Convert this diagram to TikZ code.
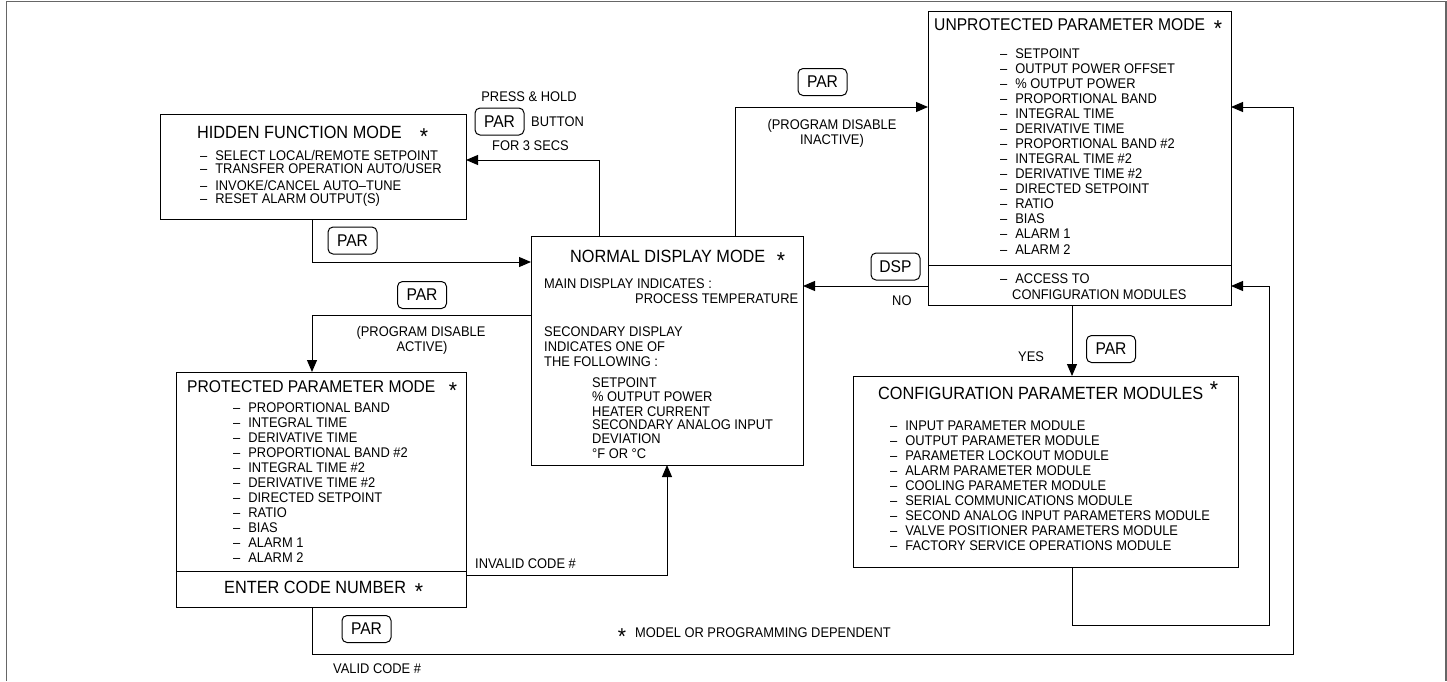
\documentclass[tikz,border=0pt]{standalone}
\usepackage{fontspec}
\setmainfont{Liberation Sans}[FakeStretch=0.92]
\usetikzlibrary{arrows.meta}
\tikzset{
  box/.style={draw, line width=1pt, inner sep=0pt, outer sep=0pt},
  btn/.style={draw, rounded corners=5pt, line width=1pt, minimum width=49pt, minimum height=27pt, inner sep=0pt, outer sep=0pt, font=\fontsize{17}{17}\selectfont},
  itm/.style={anchor=base west, inner sep=0pt, font=\fontsize{14}{14}\selectfont},
  ttl/.style={anchor=base west, inner sep=0pt, font=\fontsize{17.7}{17.7}\selectfont},
  ttls/.style={anchor=base west, inner sep=0pt, font=\fontsize{17}{17}\selectfont},
  lbl/.style={anchor=base, inner sep=0pt, font=\fontsize{14}{14}\selectfont},
  str/.style={anchor=base, inner sep=0pt, font=\fontsize{23}{23}\selectfont},
  arr/.style={line width=1pt, -{Triangle[length=12pt,width=10pt]}},
  frm/.style={line width=1.2pt, draw=black!60},
}
\newcommand{\dl}[1]{–\kern8pt #1}
\begin{document}
\begin{tikzpicture}[x=1pt,y=-1pt]
\useasboundingbox (0,0) rectangle (1447,681);
\draw[frm] (6.5,681) -- (6.5,1.5) -- (1446,1.5) -- (1446,681);

% boxes
\node[box, minimum width=306pt, minimum height=105pt] (hid) at (313,166.5) {};
\node[box, minimum width=272pt, minimum height=229pt] (norm) at (667,350.5) {};
\node[box, minimum width=303pt, minimum height=294pt] (unp) at (1079.5,158) {};
\node[box, minimum width=290pt, minimum height=235pt] (prot) at (321,489.5) {};
\node[box, minimum width=385pt, minimum height=191pt] (cfg) at (1045.5,471.5) {};
\draw[line width=1pt] ([yshift=40pt]unp.south west) -- ([yshift=40pt]unp.south east);
\draw[line width=1pt] ([yshift=36pt]prot.south west) -- ([yshift=36pt]prot.south east);

% buttons
\node[btn] (b1) at (499.5,121.5) {PAR};
\node[btn] (b2) at (352.5,240.5) {PAR};
\node[btn] (b3) at (822.5,82) {PAR};
\node[btn] (dsp) at (895.5,266.5) {DSP};
\node[btn] (b4) at (422,295) {PAR};
\node[btn] (b5) at (1111,349) {PAR};
\node[btn] (b6) at (366.5,629) {PAR};

% hidden box text
\node[ttl] (hidt) at (197,138) {HIDDEN FUNCTION MODE};
\node[str] (hids) at (424,144) {*};
\node[itm] (h1) at (200,160) {\dl{SELECT LOCAL/REMOTE SETPOINT}};
\node[itm] (h2) at (200,173) {\dl{TRANSFER OPERATION AUTO/USER}};
\node[itm] (h3) at (200,190) {\dl{INVOKE/CANCEL AUTO–TUNE}};
\node[itm] (h4) at (200,203) {\dl{RESET ALARM OUTPUT(S)}};

% normal box text
\node[ttl] (normt) at (570,262) {NORMAL DISPLAY MODE};
\node[str] (norms) at (781,268) {*};
\node[itm] (n1) at (544,288) {MAIN DISPLAY INDICATES :};
\node[itm] (n2) at (635,303) {PROCESS TEMPERATURE};
\node[itm] (n3) at (544,336) {SECONDARY DISPLAY};
\node[itm] (n4) at (544,351) {INDICATES ONE OF};
\node[itm] (n5) at (544,366) {THE FOLLOWING :};
\node[itm] (n6) at (592,387) {SETPOINT};
\node[itm] (n7) at (592,401) {\% OUTPUT POWER};
\node[itm] (n8) at (592,416) {HEATER CURRENT};
\node[itm] (n9) at (592,429) {SECONDARY ANALOG INPUT};
\node[itm] (n10) at (592,443) {DEVIATION};
\node[itm] (n11) at (592,458) {°F OR °C};

% unprotected box text
\node[ttls] (unpt) at (934,30) {UNPROTECTED PARAMETER MODE};
\node[str] (unps) at (1218,36) {*};
\foreach \t [count=\i] in {SETPOINT, OUTPUT POWER OFFSET, \% OUTPUT POWER, PROPORTIONAL BAND, INTEGRAL TIME, DERIVATIVE TIME, PROPORTIONAL BAND \#2, INTEGRAL TIME \#2, DERIVATIVE TIME \#2, DIRECTED SETPOINT, RATIO, BIAS, ALARM 1, ALARM 2}
  \node[itm] (u\i) at (1000,{58+(\i-1)*15.08}) {\dl{\t}};
\node[itm] (ua) at (1000,283) {\dl{ACCESS TO}};
\node[itm] (ub) at (1012,299) {CONFIGURATION MODULES};

% protected box text
\node[ttls] (prott) at (187,392) {PROTECTED PARAMETER MODE};
\node[str] (prots) at (453,398) {*};
\foreach \t [count=\i] in {PROPORTIONAL BAND, INTEGRAL TIME, DERIVATIVE TIME, PROPORTIONAL BAND \#2, INTEGRAL TIME \#2, DERIVATIVE TIME \#2, DIRECTED SETPOINT, RATIO, BIAS, ALARM 1, ALARM 2}
  \node[itm] (p\i) at (233,{412+(\i-1)*15}) {\dl{\t}};
\node[ttl] (entt) at (224,593) {ENTER CODE NUMBER};
\node[str] (ents) at (419,599) {*};

% configuration box text
\node[ttl] (cfgt) at (878,399) {CONFIGURATION PARAMETER MODULES};
\node[str] (cfgs) at (1214,397) {*};
\foreach \t [count=\i] in {INPUT PARAMETER MODULE, OUTPUT PARAMETER MODULE, PARAMETER LOCKOUT MODULE, ALARM PARAMETER MODULE, COOLING PARAMETER MODULE, SERIAL COMMUNICATIONS MODULE, SECOND ANALOG INPUT PARAMETERS MODULE, VALVE POSITIONER PARAMETERS MODULE, FACTORY SERVICE OPERATIONS MODULE}
  \node[itm] (c\i) at (890,{430+(\i-1)*15}) {\dl{\t}};

% labels
\node[lbl] (l1) at (529,101) {PRESS \& HOLD};
\node[itm] (l2) at (531,126) {BUTTON};
\node[itm] (l3) at (492,150) {FOR 3 SECS};
\node[lbl] (l4) at (832,129) {(PROGRAM DISABLE};
\node[lbl] (l5) at (832,144) {INACTIVE)};
\node[lbl] (l6) at (421,336) {(PROGRAM DISABLE};
\node[lbl] (l7) at (422,351) {ACTIVE)};
\node[itm] (l8) at (892,305) {NO};
\node[itm] (l9) at (1018,361) {YES};
\node[itm] (l10) at (475,568) {INVALID CODE \#};
\node[itm] (l11) at (333,673) {VALID CODE \#};
\node[str] (l12s) at (622,644) {*};
\node[itm] (l12) at (635,637) {MODEL OR PROGRAMMING DEPENDENT};

% connectors
\draw[arr] ([xshift=68pt]norm.north west) |- ([yshift=6.5pt]hid.east);
\draw[arr] ([xshift=152pt]hid.south west) |- ([yshift=-26pt]norm.north west);
\draw[arr] ([yshift=-79pt]norm.north west) -| ([xshift=136pt]prot.north west);
\draw[arr] ([xshift=204pt]norm.north west) |- ([yshift=-96pt]unp.north west);
\draw[arr] ([yshift=19pt]unp.south west) -- ([yshift=19pt]unp.south west -| norm.east);
\draw[arr] ([xshift=144pt]unp.south west) -- ([xshift=144pt]unp.south west |- cfg.north);
\draw[arr] ([xshift=219pt]cfg.south west) |- ++(197,58) |- ([yshift=19pt]unp.south east);
\draw[arr] ([xshift=136pt]prot.south west) |- ++(981,47) |- ([yshift=-96pt]unp.north east);
\draw[arr] ([yshift=32pt]prot.south east) -| ([xshift=136pt]norm.south west);
\end{tikzpicture}
\end{document}
